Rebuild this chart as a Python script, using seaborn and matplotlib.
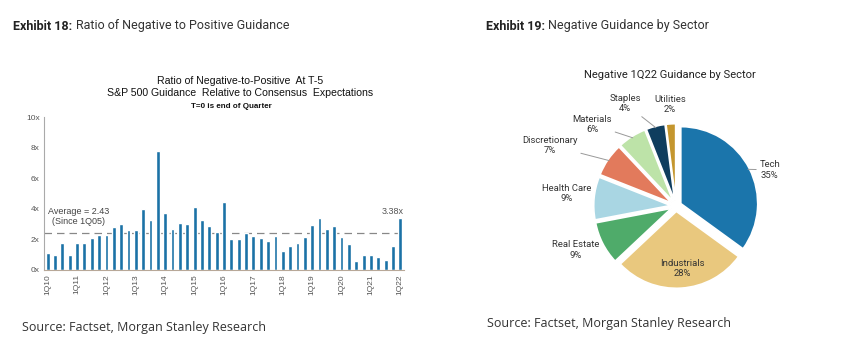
import numpy as np
import pandas as pd
import matplotlib
matplotlib.use("Agg")
import matplotlib.pyplot as plt
import seaborn as sns


# Exhibit 18: ratio of negative to positive guidance, 1Q10 .. 1Q22
quarters = [f"{q}Q{y:02d}" for y in range(10, 23) for q in range(1, 5)][:49]
ratio = [1.10, 1.00, 1.78, 1.00, 1.74, 1.74, 2.09, 2.26, 2.30, 2.83,
         3.02, 2.60, 2.60, 3.96, 3.24, 7.78, 3.70, 2.65, 3.07, 2.98,
         4.13, 3.24, 2.89, 2.50, 4.43, 2.00, 2.04, 2.39, 2.24, 2.07,
         1.89, 2.24, 1.22, 1.54, 1.78, 2.15, 2.91, 3.37, 2.67, 2.89,
         2.13, 1.72, 0.59, 0.96, 0.96, 0.87, 0.65, 1.59, 3.38]
average = 2.43
ytick_vals = [0, 2, 4, 6, 8, 10]

# Exhibit 19: negative 1Q22 guidance by sector
sectors = ["Tech", "Industrials", "Real Estate", "Health Care",
           "Discretionary", "Materials", "Staples", "Utilities"]
shares = [35, 28, 9, 9, 7, 6, 4, 2]
sector_colors = ["#1b75ab", "#e9c87e", "#4fab6a", "#a9d6e3",
                 "#e27a5c", "#bde3a8", "#0f3d5e", "#c4962e"]

W, H = 844, 352
BAR_COLOR = "#1b72a6"
TXT = "#333333"
HEAD_FONT = ["Roboto", "DejaVu Sans"]


def px_axes(fig, x0, y0, x1, y1):
    # pixel box (top-left origin) -> figure axes
    return fig.add_axes([x0 / W, (H - y1) / H, (x1 - x0) / W, (y1 - y0) / H])


def header(fig, x, y, bold, rest):
    t = fig.text(x / W, 1 - y / H, bold, fontsize=9, fontweight="bold",
                 color="#222222", va="center", family=HEAD_FONT)
    fig.canvas.draw()
    bb = t.get_window_extent()
    fig.text(bb.x1 / W + 0.004, 1 - y / H, rest, fontsize=9, color="#333333",
             va="center", family=HEAD_FONT)


def main():
    sns.set_theme(style="white")
    plt.rcParams["font.family"] = ["Liberation Sans", "DejaVu Sans"]

    fig = plt.figure(figsize=(W / 100, H / 100), dpi=100)

    # ---- bar chart ----
    ax = px_axes(fig, 44, 117, 404, 270)
    df = pd.DataFrame({"quarter": quarters, "ratio": ratio})
    sns.barplot(data=df, x="quarter", y="ratio", color=BAR_COLOR,
                saturation=1, width=0.52, ax=ax)
    ax.set_xlim(-0.5, len(quarters) - 0.5)
    ax.set_ylim(0, 10)
    ax.set_yticks(ytick_vals)
    ax.set_yticklabels([f"{v}x" for v in ytick_vals], fontsize=6, color="#555555")
    ax.set_xticks(range(0, len(quarters), 4))
    ax.set_xticklabels(quarters[::4], rotation=90, fontsize=6, color="#555555")
    ax.tick_params(axis="both", length=0, pad=3)
    ax.set_xlabel("")
    ax.set_ylabel("")
    for s in ["top", "right"]:
        ax.spines[s].set_visible(False)
    ax.spines["left"].set_color("#aaaaaa")
    ax.spines["bottom"].set_color("#b8a898")
    ax.spines["left"].set_linewidth(0.8)
    ax.spines["bottom"].set_linewidth(0.8)

    ax.axhline(average, color="#888888", lw=0.9, dashes=(6, 4), zorder=0)
    ax.text(4.25, 3.5, f"Average = {average}\n(Since 1Q05)", ha="center",
            va="center", fontsize=6.5, color="#444444", multialignment="center")
    ax.text(len(ratio) - 2.1, ratio[-1] + 0.15, f"{ratio[-1]:.2f}x",
            ha="center", va="bottom", fontsize=6.5, color="#555555")

    fig.text(240 / W, 1 - 81 / H, "Ratio of Negative-to-Positive  At T-5",
             ha="center", va="center", fontsize=7.6, color="#111111")
    fig.text(240 / W, 1 - 93 / H, "S&P 500 Guidance  Relative to Consensus  Expectations",
             ha="center", va="center", fontsize=7.6, color="#111111")
    fig.text(231 / W, 1 - 107 / H, "T=0 is end of Quarter",
             ha="center", va="center", fontsize=5.8, fontweight="bold", color="#111111")

    # ---- pie chart ----
    pax = px_axes(fig, 576, 106, 776, 306)
    wedges, _ = pax.pie(shares, colors=sector_colors, startangle=90,
                        counterclock=False, explode=[0.07] * len(shares),
                        wedgeprops=dict(edgecolor="white", linewidth=1.2))
    pax.set_xlim(-1.3, 1.3)
    pax.set_ylim(-1.3, 1.3)
    pax.set_aspect("equal")

    label_pos = [(1.22, 0.47), (0.08, -0.81), (-1.30, -0.57), (-1.42, 0.16),
                 (-1.64, 0.79), (-1.09, 1.06), (-0.66, 1.33), (-0.08, 1.32)]
    leader = [True, False, False, False, True, True, True, False]
    for w, name, share, pos, line in zip(wedges, sectors, shares, label_pos, leader):
        mid = np.deg2rad((w.theta1 + w.theta2) / 2)
        edge = (1.05 * np.cos(mid), 1.05 * np.sin(mid))
        props = dict(arrowstyle="-", color="#999999", lw=0.7,
                     shrinkA=0, shrinkB=0) if line else None
        pax.annotate(f"{name}\n{share}%", xy=edge, xytext=pos,
                     ha="center", va="center", fontsize=6.8, color=TXT,
                     family=["Roboto", "DejaVu Sans"], arrowprops=props,
                     annotation_clip=False)

    fig.text(670 / W, 1 - 75 / H, "Negative 1Q22 Guidance by Sector",
             ha="center", va="center", fontsize=8, color="#222222",
             family=["Roboto", "DejaVu Sans"])

    # ---- headers and sources ----
    header(fig, 13, 26, "Exhibit 18:", "Ratio of Negative to Positive Guidance")
    header(fig, 486, 26, "Exhibit 19:", "Negative Guidance by Sector")
    fig.text(22 / W, 1 - 328 / H, "Source: Factset, Morgan Stanley Research",
             fontsize=9, color="#333333", va="center", family=["Open Sans", "DejaVu Sans"])
    fig.text(487 / W, 1 - 324 / H, "Source: Factset, Morgan Stanley Research",
             fontsize=9, color="#333333", va="center", family=["Open Sans", "DejaVu Sans"])

    fig.savefig("out.png", dpi=100, facecolor="white")


if __name__ == "__main__":
    main()
